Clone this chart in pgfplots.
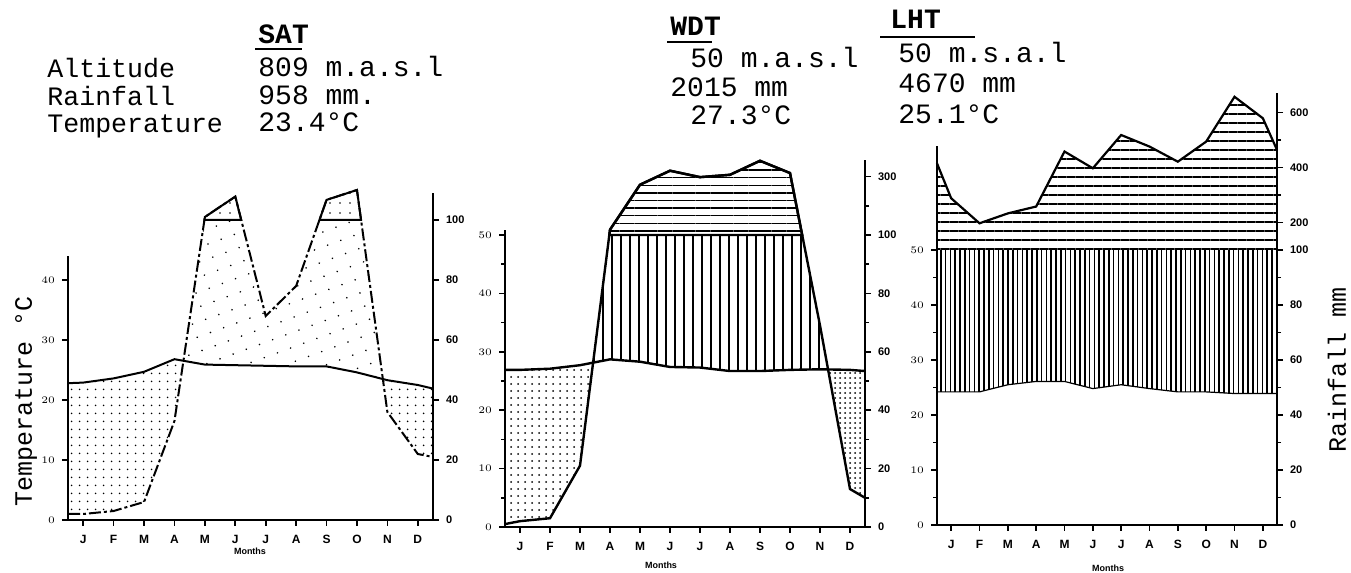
\documentclass[border=0pt]{standalone}
\usepackage{fontspec}
\setmainfont{Liberation Serif}
\setsansfont{Liberation Sans}
\newfontfamily\cour{Liberation Mono}
\usepackage{pgfplots}
\pgfplotsset{compat=1.18}
\usepackage{pgfplotstable}
\usepgfplotslibrary{fillbetween}
\usetikzlibrary{patterns.meta}

% Walter-Lieth scale: 20 mm = 10 degC up to 100 mm, 1:10 above
\newcommand{\wl}[1]{((#1<=100)*(#1/2)+(#1>100)*(50+(#1-100)/20))}

% x = month, T = degC, P = rainfall mm
\pgfplotstableread{
x    T    P
0.5  22.8 2
1    22.9 2
2    23.6 3
3    24.7 6
4    26.8 33
5    25.9 110
6    25.8 178
7    25.7 68
8    25.6 78
9    25.6 167
10   24.6 200
11   23.3 36
12   22.5 22
12.5 21.9 21
}\sat

\pgfplotstableread{
x    T    P
0.5  26.9 1
1    26.9 2
2    27.1 3
3    27.7 21
4    28.7 118
5    28.3 272
6    27.4 320
7    27.3 298
8    26.7 306
9    26.7 354
10   26.9 312
11   27.0 69
12   26.9 13
12.5 26.7 10
}\wdt

\pgfplotstableread{
x    T    P
0.5  24.2 415
1    24.2 288
2    24.2 197
3    25.5 233
4    26.1 258
5    26.1 458
6    24.8 397
7    25.5 518
8    24.8 476
9    24.2 421
10   24.2 494
11   23.9 657
12   23.9 579
12.5 23.9 464
}\lht

\pgfplotsset{
  wl/.style={
    scale only axis, anchor=south west,
    xmin=0.5, xmax=12.5, ymin=0, clip=false,
    tick align=outside,
    major tick length=3pt, minor tick length=2pt,
    every tick/.style={black, line width=0.8pt},
    axis line style={line width=1pt},
    tick label style={font=\fontsize{5.5}{6}\selectfont\sffamily\bfseries},
  },
  wlleft/.style={wl, axis y line*=left, axis x line*=bottom,
    xtick={1,...,12}, xticklabels={J,F,M,A,M,J,J,A,S,O,N,D},
    xticklabel style={font=\fontsize{6}{6}\selectfont\sffamily\bfseries},
    xticklabel shift=1pt},
  wlright/.style={wl, axis y line*=right, axis x line=none},
  hide seg/.style={fill opacity=0, draw opacity=0},
}

\begin{document}
\begin{tikzpicture}

% ---------- SAT ----------
\begin{axis}[wlleft, at={(34pt,26.5pt)}, width=182.5pt, height=132pt, ymax=44,
  ytick={0,10,...,40}]
  \addplot[draw=none] coordinates {(1,0) (12,0)};
\end{axis}
\begin{axis}[wlright, at={(34pt,26.5pt)}, width=182.5pt, height=163.5pt, ymax=54.5,
  ytick={0,10,20,30,40,50,55}, yticklabels={0,20,40,60,80,100,200}]
  \addplot[name path=T, draw=none] table[x=x, y=T] \sat;
  \addplot[name path=R, draw=none] table[x=x, y expr={\wl{\thisrow{P}}}] \sat;
  \addplot[name path=L, draw=none] coordinates {(0.5,50) (12.5,50)};
  \addplot[draw=none, pattern color=black] fill between[of=T and R, split,
    every segment no 0/.style={pattern={Dots[distance=4pt, radius=0.5pt]}},
    every segment no 1/.style={pattern={Dots[distance=7pt, radius=0.45pt, angle=20]}},
    every segment no 2/.style={pattern={Dots[distance=4pt, radius=0.5pt]}}];
  \addplot[draw=none] fill between[of=R and L, split,
    every even segment/.style={hide seg},
    every odd segment/.style={fill=white}];
  \addplot[draw=none, pattern color=black] fill between[of=R and L, split,
    every even segment/.style={hide seg},
    every odd segment/.style={pattern={Dots[distance=5pt, radius=0.45pt]}, draw=black, line width=1pt}];
  \addplot[black, line width=1pt, dash pattern=on 6pt off 1.5pt on 1.5pt off 1.5pt] table[x=x, y expr={\wl{\thisrow{P}}}] \sat;
  \addplot[black, line width=1pt] table[x=x, y=T] \sat;
\end{axis}

% ---------- WDT ----------
\begin{axis}[wlleft, at={(252.5pt,23pt)}, width=180pt, height=148.3pt, ymax=50.8,
  ytick={0,10,...,50}, minor ytick={5,15,...,45}]
  \addplot[draw=none] coordinates {(1,0) (12,0)};
\end{axis}
\begin{axis}[wlright, at={(252.5pt,23pt)}, width=180pt, height=183.4pt, ymax=62.8,
  ytick={0,10,20,30,40,50,60}, yticklabels={0,20,40,60,80,100,300},
  minor ytick={5,15,25,35,45,55}]
  \addplot[name path=T, draw=none] table[x=x, y=T] \wdt;
  \addplot[name path=R, draw=none] table[x=x, y expr={\wl{\thisrow{P}}}] \wdt;
  \addplot[name path=L, draw=none] coordinates {(0.5,50) (12.5,50)};
  \addplot[draw=none, pattern color=black] fill between[of=T and R, split,
    every segment no 0/.style={pattern={Dots[distance=3.5pt, radius=0.5pt]}},
    every segment no 1/.style={pattern={Lines[angle=90, distance=4.5pt, line width=1pt]}},
    every segment no 2/.style={pattern={Dots[distance=2.5pt, radius=0.5pt]}}];
  \addplot[draw=none] fill between[of=R and L, split,
    every even segment/.style={hide seg},
    every odd segment/.style={fill=white}];
  \addplot[draw=none, pattern color=black] fill between[of=R and L, split,
    every even segment/.style={hide seg},
    every odd segment/.style={pattern={Lines[angle=0, distance=3.8pt, line width=0.7pt]}, draw=black, line width=1.2pt}];
  \addplot[black, line width=1.2pt] table[x=x, y expr={\wl{\thisrow{P}}}] \wdt;
  \addplot[black, line width=1.2pt] table[x=x, y=T] \wdt;
\end{axis}

% ---------- LHT ----------
\begin{axis}[wlleft, at={(468.5pt,24pt)}, width=170pt, height=189.75pt, ymax=69,
  ytick={0,10,...,50}, minor ytick={5,15,...,45}]
  \addplot[draw=none] coordinates {(1,0) (12,0)};
\end{axis}
\begin{axis}[wlright, at={(468.5pt,24pt)}, width=170pt, height=215.9pt, ymax=78.5,
  ytick={0,10,20,30,40,50,55,65,75}, yticklabels={0,20,40,60,80,100,200,400,600},
  minor ytick={5,15,25,35,45,60,70}]
  \addplot[name path=T, draw=none] table[x=x, y=T] \lht;
  \addplot[name path=R, draw=none] table[x=x, y expr={\wl{\thisrow{P}}}] \lht;
  \addplot[name path=L, draw=none] coordinates {(0.5,50) (12.5,50)};
  \addplot[draw=none, pattern color=black, pattern={Lines[angle=0, distance=4.5pt, line width=0.9pt]}] fill between[of=R and L];
  \addplot[draw=none, pattern color=black, pattern={Lines[angle=90, distance=2.4pt, line width=0.8pt]}] fill between[of=T and L];
  \addplot[black, line width=1.1pt] table[x=x, y expr={\wl{\thisrow{P}}}] \lht;
  \addplot[black, line width=0.6pt] table[x=x, y=T] \lht;
\end{axis}

% ---------- texts ----------
\begin{scope}[every node/.style={inner sep=0pt, font=\cour\fontsize{14}{15}\selectfont}]
  \node[anchor=base west] at (129pt,264.5pt) {\bfseries SAT};
  \draw[line width=1pt] (127.5pt,262pt) -- (151pt,262pt);
  \node[anchor=base west] at (129pt,248.25pt) {809 m.a.s.l};
  \node[anchor=base west] at (129pt,234.25pt) {958 mm.};
  \node[anchor=base west] at (129pt,220.5pt) {23.4°C};

  \node[anchor=base west] at (335pt,268.5pt) {\bfseries WDT};
  \draw[line width=1pt] (333.5pt,265.5pt) -- (356pt,265.5pt);
  \node[anchor=base west] at (345pt,252.75pt) {50 m.a.s.l};
  \node[anchor=base west] at (335pt,238.25pt) {2015 mm};
  \node[anchor=base west] at (345pt,224.25pt) {27.3°C};

  \node[anchor=base west] at (445pt,272pt) {\bfseries LHT};
  \draw[line width=1pt] (440pt,268pt) -- (487.5pt,268pt);
  \node[anchor=base west] at (449pt,255.25pt) {50 m.s.a.l};
  \node[anchor=base west] at (449pt,240.25pt) {4670 mm};
  \node[anchor=base west] at (449pt,224.75pt) {25.1°C};
\end{scope}
\begin{scope}[every node/.style={inner sep=0pt, font=\cour\fontsize{13.3}{14}\selectfont}]
  \node[anchor=base west] at (23.5pt,247.75pt) {Altitude};
  \node[anchor=base west] at (23.5pt,233.75pt) {Rainfall};
  \node[anchor=base west] at (23.5pt,220pt) {Temperature};
\end{scope}
\begin{scope}[every node/.style={inner sep=0pt, font=\cour\fontsize{12.5}{13}\selectfont}]
  \node[rotate=90] at (13pt,86pt) {Temperature °C};
  \node[rotate=90] at (668.5pt,101.5pt) {Rainfall mm};
\end{scope}
\begin{scope}[every node/.style={inner sep=0pt, font=\fontsize{4.5}{5}\selectfont\sffamily\bfseries}]
  \node at (125pt,11pt) {Months};
  \node at (330.5pt,4pt) {Months};
  \node at (554pt,2.5pt) {Months};
\end{scope}
\pgfresetboundingbox
\useasboundingbox (0,0) rectangle (675.5pt,286.5pt);
\end{tikzpicture}
\end{document}
